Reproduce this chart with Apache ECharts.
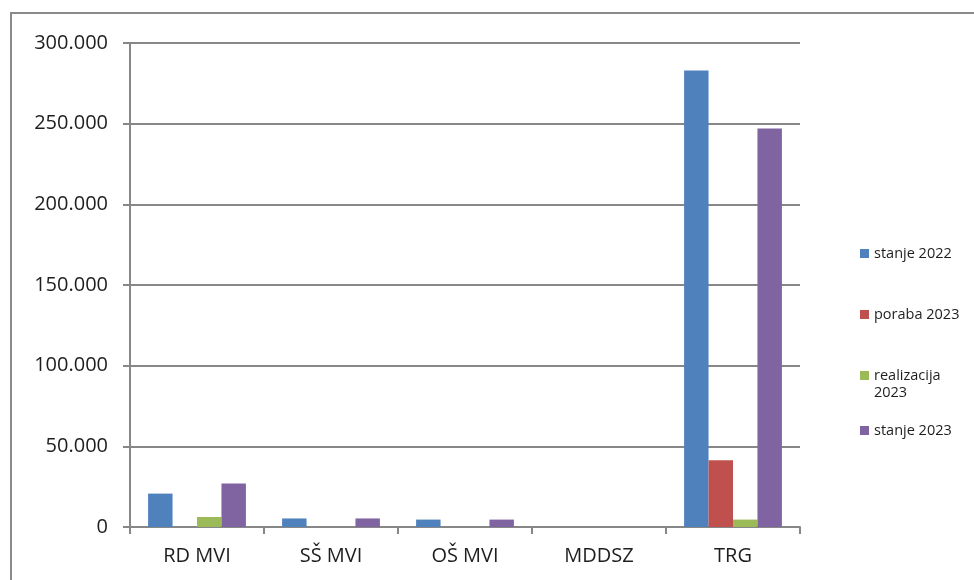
<!DOCTYPE html>
<html>
<head>
<meta charset="utf-8">
<script src="https://cdn.jsdelivr.net/npm/echarts@6/dist/echarts.min.js"></script>
<style>
html,body{margin:0;padding:0;background:#fff;}
#chart{width:974px;height:580px;}
</style>
</head>
<body>
<div id="chart"></div>
<script>
var categories = ['RD MVI', 'SŠ MVI', 'OŠ MVI', 'MDDSZ', 'TRG'];
var seriesNames = ['stanje 2022', 'poraba 2023', 'realizacija 2023', 'stanje 2023'];
var stanje2022 = [20700, 5300, 4600, 0, 283000];
var poraba2023 = [0, 0, 0, 0, 41400];
var realizacija2023 = [6200, 0, 0, 0, 4600];
var stanje2023 = [27000, 5300, 4600, 0, 247000];
var yTicks = [0, 50000, 100000, 150000, 200000, 250000, 300000];

var colors = ['#4F81BD', '#C0504D', '#9BBB59', '#8064A2'];
var values = [stanje2022, poraba2023, realizacija2023, stanje2023];
var gridColor = '#878787';
var textColor = '#1e1e1e';
var font = 'Open Sans';

function fmt(v) {
  var s = String(Math.round(v));
  return s.replace(/\B(?=(\d{3})+(?!\d))/g, '.');
}

var legendTops = [246, 307, 350, 423];
var legends = seriesNames.map(function (n, i) {
  var lg = {
    data: [n],
    orient: 'vertical',
    left: 860,
    top: legendTops[i],
    padding: 0,
    itemWidth: 9,
    itemHeight: 9,
    icon: 'rect',
    textStyle: { fontFamily: font, fontSize: 14.5, lineHeight: 14, color: textColor }
  };
  if (n === 'realizacija 2023') {
    lg.formatter = function () { return ' \nrealizacija\n2023'; };
    lg.textStyle.lineHeight = 17;
  }
  return lg;
});

var chart = echarts.init(document.getElementById('chart'), null, { renderer: 'canvas' });
chart.setOption({
  animation: false,
  backgroundColor: '#fff',
  graphic: [{
    type: 'rect',
    shape: { x: 11, y: 13, width: 1000, height: 1000 },
    style: { fill: 'none', stroke: '#8a8a8a', lineWidth: 2 },
    silent: true,
    z: -1
  }],
  grid: { left: 130, right: 174, top: 43, bottom: 53 },
  legend: legends,
  xAxis: {
    type: 'category',
    data: categories,
    axisLine: { lineStyle: { color: gridColor, width: 2 } },
    axisTick: { show: true, length: 7, lineStyle: { color: gridColor, width: 2 } },
    axisLabel: { fontFamily: font, fontSize: 20, color: textColor, margin: 19 }
  },
  yAxis: {
    type: 'value',
    min: yTicks[0],
    max: yTicks[yTicks.length - 1],
    interval: yTicks[1] - yTicks[0],
    axisLine: { show: true, lineStyle: { color: gridColor, width: 2 } },
    axisTick: { show: true, length: 7, lineStyle: { color: gridColor, width: 2 } },
    splitLine: { show: true, lineStyle: { color: gridColor, width: 2 } },
    axisLabel: { fontFamily: font, fontSize: 20, color: textColor, margin: 22, formatter: fmt }
  },
  series: seriesNames.map(function (n, i) {
    return {
      name: n,
      type: 'bar',
      data: values[i],
      barGap: '0%',
      barCategoryGap: '27%',
      itemStyle: { color: colors[i] }
    };
  })
});
</script>
</body>
</html>
